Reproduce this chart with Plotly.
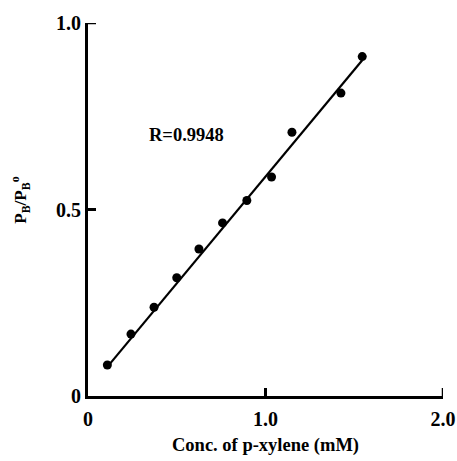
import plotly.graph_objects as go

conc = [0.109, 0.242, 0.372, 0.500, 0.625, 0.758, 0.895, 1.034, 1.149, 1.425, 1.545]
ratio = [0.083, 0.166, 0.238, 0.317, 0.394, 0.464, 0.524, 0.587, 0.707, 0.812, 0.910]
fit_x = [0.109, 1.545]
fit_y = [0.078, 0.900]
x_ticks = [0, 1.0, 2.0]
x_tick_text = ["0", "1.0", "2.0"]
y_ticks = [0, 0.5, 1.0]
y_tick_text = ["0", "0.5", "1.0"]

FONT = "Liberation Serif"
TICK_LEN = 8

fig = go.Figure()
fig.add_trace(go.Scatter(x=fit_x, y=fit_y, mode="lines",
                         line=dict(color="black", width=2.2), hoverinfo="skip"))
fig.add_trace(go.Scatter(x=conc, y=ratio, mode="markers",
                         marker=dict(color="black", size=9)))

fig.update_layout(
    template="none",
    width=457, height=461,
    margin=dict(l=88, r=14, t=23, b=65, autoexpand=False),
    paper_bgcolor="white", plot_bgcolor="white",
    showlegend=False,
    font=dict(family=FONT, color="black"),
)
fig.update_xaxes(
    range=[0, 2.0], tickvals=x_ticks, ticktext=["<b>%s</b>" % t for t in x_tick_text],
    showline=True, linecolor="black", linewidth=3,
    ticks="inside", ticklen=TICK_LEN, tickwidth=2.5, tickcolor="black",
    showgrid=False, zeroline=False, automargin=False,
    tickfont=dict(family=FONT, size=20, color="black"),
    ticklabelstandoff=3,
    title=dict(text="<b>Conc. of p-xylene (mM)</b>", font=dict(family=FONT, size=18.5), standoff=10),
)
fig.update_yaxes(
    range=[0, 1.0], tickvals=y_ticks, ticktext=["<b>%s</b>" % t for t in y_tick_text],
    showline=True, linecolor="black", linewidth=3,
    ticks="inside", ticklen=TICK_LEN, tickwidth=2.5, tickcolor="black",
    showgrid=False, zeroline=False, automargin=False,
    tickfont=dict(family=FONT, size=20, color="black"),
)

# inner tick marks (drawn explicitly at the tick values)
for v in x_ticks[1:]:
    fig.add_shape(type="line", xref="x", yref="y", x0=v, x1=v,
                  ysizemode="pixel", yanchor=0, y0=0, y1=TICK_LEN,
                  line=dict(color="black", width=2.5))
for v in y_ticks[1:]:
    fig.add_shape(type="line", xref="x", yref="y", y0=v, y1=v,
                  xsizemode="pixel", xanchor=0, x0=0, x1=TICK_LEN,
                  line=dict(color="black", width=2.5))

fig.add_annotation(
    text="<b>P<sub>B</sub>/P<sub>B</sub><sup>o</sup></b>",
    xref="paper", yref="paper", x=-0.19, y=0.525,
    xanchor="center", yanchor="middle", textangle=-90, showarrow=False,
    font=dict(family=FONT, size=17, color="black"),
)
fig.add_annotation(
    text="<b>R=0.9948</b>", xref="x", yref="y", x=0.33, y=0.70,
    xanchor="left", yanchor="middle", showarrow=False,
    font=dict(family=FONT, size=18.5, color="black"),
)

fig.write_html("out.html", config={"displayModeBar": False},
               post_script="document.body.style.margin='0';document.body.style.padding='0';")
